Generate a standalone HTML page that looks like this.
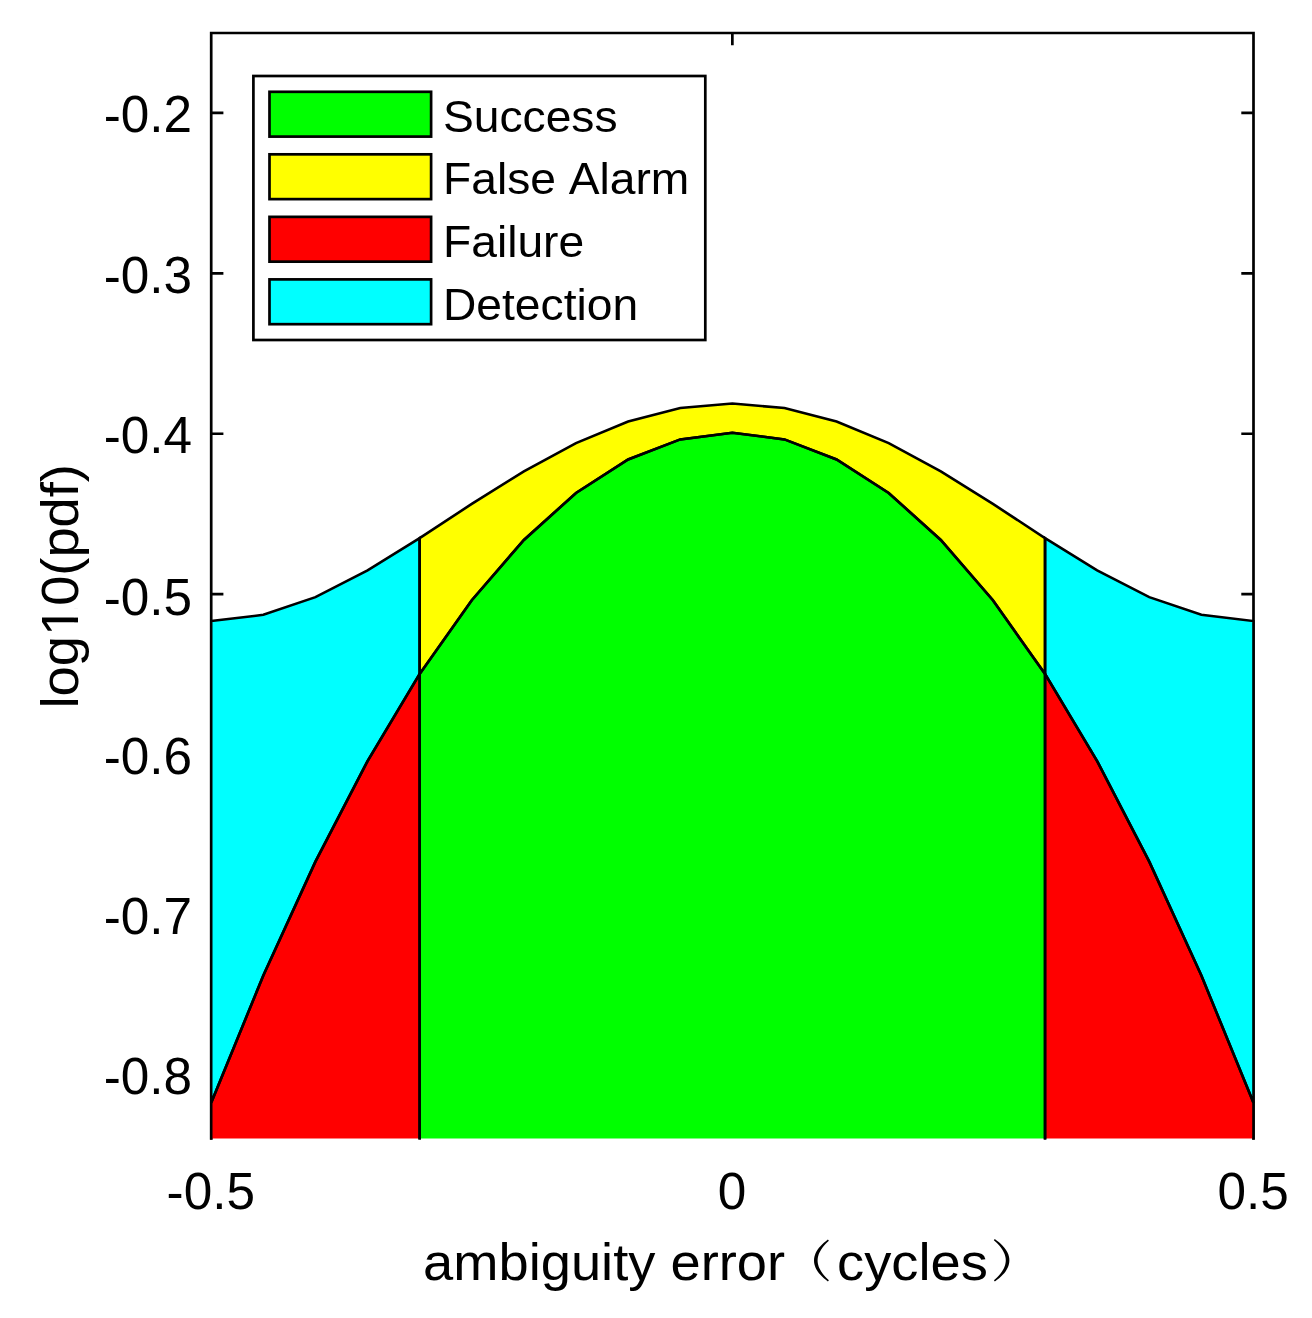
<!DOCTYPE html>
<html><head><meta charset="utf-8"><title>log10(pdf) vs ambiguity error</title><style>
html,body{margin:0;padding:0;background:#fff;}
body{width:1312px;height:1318px;overflow:hidden;font-family:"Liberation Sans",sans-serif;}
svg{display:block;will-change:transform;}
</style></head><body>
<svg width="1312" height="1318" viewBox="0 0 1312 1318">
<defs><clipPath id="ax"><rect x="209.85" y="33.00" width="1045.00" height="1105.50"/></clipPath><clipPath id="axs"><rect x="209.85" y="33.00" width="1045.00" height="1106.60"/></clipPath></defs>
<rect width="1312" height="1318" fill="#fff"/>
<path d="M211.20,1139.8V33.00H1253.50V1139.8M211.20,112.90h12.2M1253.50,112.90h-12.2M211.20,273.33h12.2M1253.50,273.33h-12.2M211.20,433.76h12.2M1253.50,433.76h-12.2M211.20,594.19h12.2M1253.50,594.19h-12.2M211.20,754.62h12.2M1253.50,754.62h-12.2M211.20,915.05h12.2M1253.50,915.05h-12.2M211.20,1075.48h12.2M1253.50,1075.48h-12.2M211.20,33.00v12.2M732.35,33.00v12.2M1253.50,33.00v12.2" fill="none" stroke="#000" stroke-width="2.7" stroke-linecap="butt" stroke-linejoin="miter"/>
<g clip-path="url(#ax)" stroke="none">
<polygon points="419.66,673.95 471.78,600.24 523.89,539.92 576.00,493.01 628.12,459.51 680.24,439.40 732.35,432.70 784.47,439.40 836.58,459.51 888.70,493.01 940.81,539.92 992.92,600.24 1045.04,673.95 1045.04,1396.34 419.66,1396.34" fill="#00ff00"/>
<polygon points="419.66,538.08 471.78,503.91 523.89,471.33 576.00,443.17 628.12,421.60 680.24,408.08 732.35,403.49 784.47,408.08 836.58,421.60 888.70,443.17 940.81,471.33 992.92,503.91 1045.04,538.08 1045.04,673.95 992.92,600.24 940.81,539.92 888.70,493.01 836.58,459.51 784.47,439.40 732.35,432.70 680.24,439.40 628.12,459.51 576.00,493.01 523.89,539.92 471.78,600.24 419.66,673.95" fill="#ffff00"/>
<polygon points="211.20,1102.85 263.32,975.52 315.43,861.59 367.55,761.07 419.66,673.95 419.66,1396.34 211.20,1396.34" fill="#ff0000"/>
<polygon points="1045.04,673.95 1097.15,761.07 1149.27,861.59 1201.38,975.52 1253.50,1102.85 1253.50,1396.34 1045.04,1396.34" fill="#ff0000"/>
<polygon points="211.20,621.06 263.32,614.85 315.43,597.13 367.55,570.39 419.66,538.08 419.66,673.95 367.55,761.07 315.43,861.59 263.32,975.52 211.20,1102.85" fill="#00ffff"/>
<polygon points="1045.04,538.08 1097.15,570.39 1149.27,597.13 1201.38,614.85 1253.50,621.06 1253.50,1102.85 1201.38,975.52 1149.27,861.59 1097.15,761.07 1045.04,673.95" fill="#00ffff"/>
</g>
<g clip-path="url(#axs)" fill="none" stroke="#000" stroke-width="2.6" stroke-linejoin="miter">
<polygon points="419.66,673.95 471.78,600.24 523.89,539.92 576.00,493.01 628.12,459.51 680.24,439.40 732.35,432.70 784.47,439.40 836.58,459.51 888.70,493.01 940.81,539.92 992.92,600.24 1045.04,673.95 1045.04,1396.34 419.66,1396.34"/>
<polygon points="419.66,538.08 471.78,503.91 523.89,471.33 576.00,443.17 628.12,421.60 680.24,408.08 732.35,403.49 784.47,408.08 836.58,421.60 888.70,443.17 940.81,471.33 992.92,503.91 1045.04,538.08 1045.04,673.95 992.92,600.24 940.81,539.92 888.70,493.01 836.58,459.51 784.47,439.40 732.35,432.70 680.24,439.40 628.12,459.51 576.00,493.01 523.89,539.92 471.78,600.24 419.66,673.95"/>
<polygon points="211.20,1102.85 263.32,975.52 315.43,861.59 367.55,761.07 419.66,673.95 419.66,1396.34 211.20,1396.34"/>
<polygon points="1045.04,673.95 1097.15,761.07 1149.27,861.59 1201.38,975.52 1253.50,1102.85 1253.50,1396.34 1045.04,1396.34"/>
<polygon points="211.20,621.06 263.32,614.85 315.43,597.13 367.55,570.39 419.66,538.08 419.66,673.95 367.55,761.07 315.43,861.59 263.32,975.52 211.20,1102.85"/>
<polygon points="1045.04,538.08 1097.15,570.39 1149.27,597.13 1201.38,614.85 1253.50,621.06 1253.50,1102.85 1201.38,975.52 1149.27,861.59 1097.15,761.07 1045.04,673.95"/>
</g>
<g font-family="'Liberation Sans', sans-serif" font-size="51.3" fill="#000">
<text x="192.1" y="131.7" text-anchor="end"><tspan dy="1.4">-</tspan><tspan dy="-1.4">0.2</tspan></text>
<text x="192.1" y="292.8" text-anchor="end"><tspan dy="1.4">-</tspan><tspan dy="-1.4">0.3</tspan></text>
<text x="192.1" y="452.8" text-anchor="end"><tspan dy="1.4">-</tspan><tspan dy="-1.4">0.4</tspan></text>
<text x="192.1" y="614.5" text-anchor="end"><tspan dy="1.4">-</tspan><tspan dy="-1.4">0.5</tspan></text>
<text x="192.1" y="773.6" text-anchor="end"><tspan dy="1.4">-</tspan><tspan dy="-1.4">0.6</tspan></text>
<text x="192.1" y="933.6" text-anchor="end"><tspan dy="1.4">-</tspan><tspan dy="-1.4">0.7</tspan></text>
<text x="192.1" y="1093.6" text-anchor="end"><tspan dy="1.4">-</tspan><tspan dy="-1.4">0.8</tspan></text>
<text x="210.80" y="1208.9" text-anchor="middle"><tspan dy="1.4">-</tspan><tspan dy="-1.4">0.5</tspan></text>
<text x="731.95" y="1208.9" text-anchor="middle">0</text>
<text x="1253.10" y="1208.9" text-anchor="middle">0.5</text>
</g>
<g transform="translate(78.1,708.46) rotate(-90) scale(1.03,0.99)"><text font-family="'Liberation Sans', sans-serif" font-size="52.7">log10(pdf)</text><rect x="74.02" y="-4.22" width="9.56" height="5.22" fill="#fff"/><rect x="88.24" y="-4.22" width="9.23" height="5.22" fill="#fff"/></g>
<text transform="translate(423.09,1279.7) scale(1.03,0.975)" font-family="'Liberation Sans', sans-serif" font-size="52.7">ambiguity error</text>
<text transform="translate(836.99,1279.7) scale(1.03,0.975)" font-family="'Liberation Sans', sans-serif" font-size="52.7">cycles</text>
<path d="M827.93,1239.62L825.80,1241.23L823.84,1242.85L822.04,1244.49L820.42,1246.15L818.96,1247.84L817.68,1249.56L816.58,1251.31L815.67,1253.10L814.94,1254.92L814.42,1256.76L814.11,1258.62L814.00,1260.50L814.11,1262.38L814.42,1264.24L814.94,1266.08L815.67,1267.90L816.58,1269.69L817.68,1271.44L818.96,1273.16L820.42,1274.85L822.04,1276.51L823.84,1278.15L825.80,1279.77L827.93,1281.38L828.87,1280.22L826.97,1278.44L825.26,1276.68L823.73,1274.94L822.38,1273.22L821.21,1271.53L820.22,1269.86L819.39,1268.23L818.73,1266.63L818.23,1265.07L817.88,1263.53L817.67,1262.01L817.60,1260.50L817.67,1258.99L817.88,1257.47L818.23,1255.93L818.73,1254.37L819.39,1252.77L820.22,1251.14L821.21,1249.47L822.38,1247.78L823.73,1246.06L825.26,1244.32L826.97,1242.56L828.87,1240.78Z" fill="#000"/>
<path d="M993.84,1240.19L995.84,1242.00L997.65,1243.80L999.27,1245.57L1000.69,1247.33L1001.93,1249.05L1002.99,1250.75L1003.86,1252.41L1004.56,1254.04L1005.10,1255.64L1005.47,1257.20L1005.70,1258.75L1005.78,1260.28L1005.71,1261.81L1005.49,1263.35L1005.12,1264.91L1004.60,1266.51L1003.90,1268.13L1003.04,1269.79L1001.99,1271.48L1000.76,1273.20L999.34,1274.95L997.73,1276.72L995.93,1278.51L993.94,1280.31L994.86,1281.49L997.08,1279.86L999.13,1278.21L1001.00,1276.55L1002.70,1274.86L1004.22,1273.14L1005.55,1271.40L1006.70,1269.62L1007.65,1267.80L1008.40,1265.96L1008.94,1264.08L1009.27,1262.18L1009.37,1260.27L1009.26,1258.36L1008.92,1256.46L1008.37,1254.58L1007.61,1252.73L1006.65,1250.92L1005.50,1249.14L1004.16,1247.39L1002.63,1245.67L1000.93,1243.98L999.05,1242.30L996.99,1240.65L994.76,1239.01Z" fill="#000"/>
<rect x="253.4" y="76.0" width="451.9" height="264.0" fill="#fff" stroke="#000" stroke-width="2.7"/>
<g font-family="'Liberation Sans', sans-serif" font-size="46.2" fill="#000">
<rect x="269.5" y="91.80" width="161.6" height="44.8" fill="#00ff00" stroke="#000" stroke-width="2.7"/>
<text transform="translate(443.0,131.60) scale(1,0.975)">Success</text>
<rect x="269.5" y="154.33" width="161.6" height="44.8" fill="#ffff00" stroke="#000" stroke-width="2.7"/>
<text transform="translate(443.0,194.43) scale(1,0.975)">False</text><text transform="translate(568.7,194.43) scale(1,0.975)">Alarm</text>
<rect x="269.5" y="216.86" width="161.6" height="44.8" fill="#ff0000" stroke="#000" stroke-width="2.7"/>
<text transform="translate(443.0,257.26) scale(1,0.975)">Failure</text>
<rect x="269.5" y="279.39" width="161.6" height="44.8" fill="#00ffff" stroke="#000" stroke-width="2.7"/>
<text transform="translate(443.0,320.09) scale(1,0.975)">Detection</text>
</g>
</svg>
</body></html>
